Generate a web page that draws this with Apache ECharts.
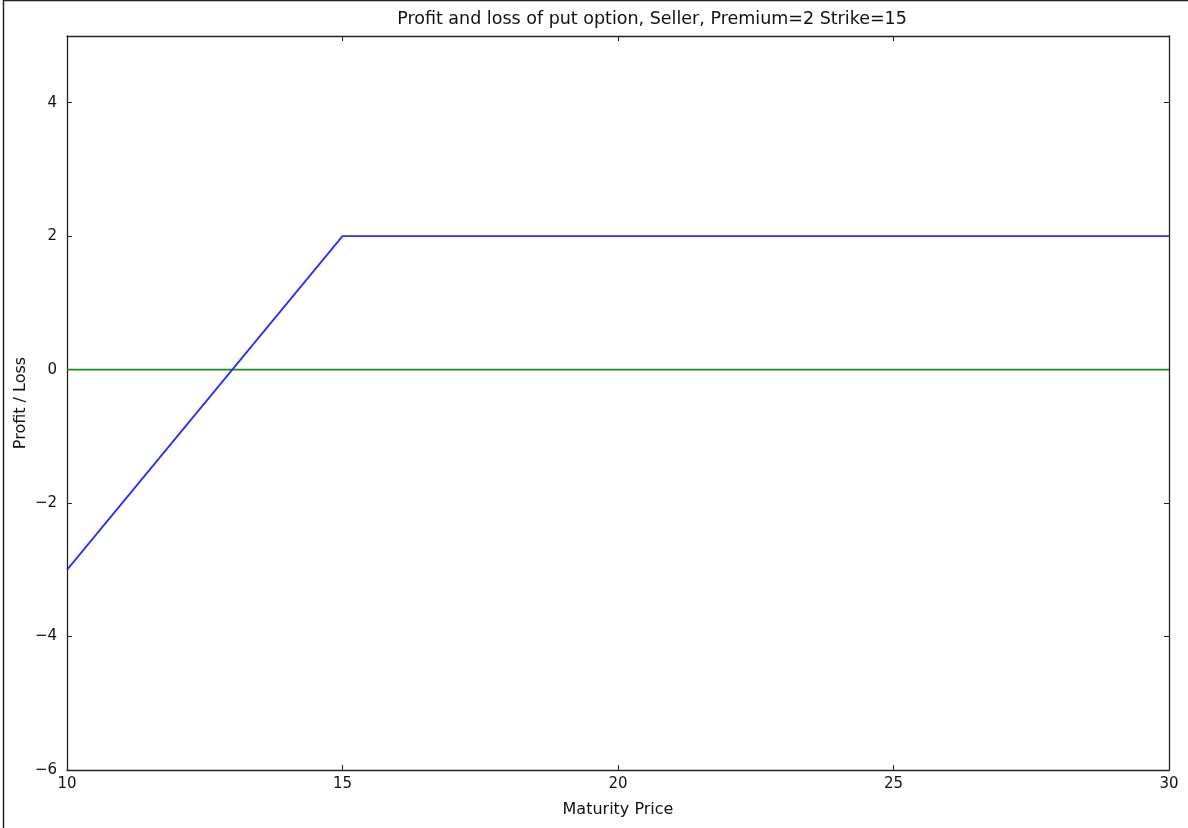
<!DOCTYPE html>
<html><head><meta charset="utf-8">
<script src="https://cdn.jsdelivr.net/npm/echarts@6/dist/echarts.min.js"></script>
<style>html,body{margin:0;padding:0;background:#fff}#c{width:1188px;height:828px}</style>
</head><body><div id="c"></div>
<script>
const titleText = 'Profit and loss of put option, Seller, Premium=2 Strike=15';
const xName = 'Maturity Price';
const yName = 'Profit / Loss';
const maturityPrices = [10, 15, 30];
const sellerPnl = [-3, 2, 2];
const zeroLine = [0, 0, 0];
const xTicks = [10, 15, 20, 25, 30];
const yTicks = [-6, -4, -2, 0, 2, 4];

const font = 'DejaVu Sans';
const fmt = v => String(v).replace('-', '\u2212');
const axisLine = {show: true, onZero: false, lineStyle: {color: '#222', width: 1.3}};
const tickIn = {show: true, inside: true, length: 5, lineStyle: {color: '#222', width: 1}};

const chart = echarts.init(document.getElementById('c'), null, {renderer: 'canvas'});
chart.setOption({
  animation: false,
  backgroundColor: '#fff',
  title: {text: titleText, left: 647, top: 5, textAlign: 'center',
    textStyle: {fontFamily: font, fontSize: 17.5, fontWeight: 'normal', color: '#111'}},
  grid: {left: 67, top: 36, width: 1102, height: 734, containLabel: false, outerBoundsMode: 'none'},
  xAxis: [
    {type: 'value', min: 10, max: 30, interval: 5, position: 'bottom',
     name: xName, nameLocation: 'middle', nameGap: 32, nameMoveOverlap: false,
     nameTextStyle: {fontFamily: font, fontSize: 16, color: '#111'},
     axisLine, axisTick: tickIn, splitLine: {show: false},
     axisLabel: {fontFamily: font, fontSize: 15, color: '#111', margin: 7, formatter: fmt}},
    {type: 'value', min: 10, max: 30, interval: 5, position: 'top',
     axisLine, axisTick: tickIn, splitLine: {show: false}, axisLabel: {show: false}}
  ],
  yAxis: [
    {type: 'value', min: -6, max: 5, interval: 2, position: 'left',
     name: yName, nameLocation: 'middle', nameGap: 38, nameRotate: 90, nameMoveOverlap: false,
     nameTextStyle: {fontFamily: font, fontSize: 16, color: '#111'},
     axisLine, axisTick: tickIn, splitLine: {show: false},
     axisLabel: {fontFamily: font, fontSize: 15, color: '#111', margin: 10,
       formatter: v => (yTicks.includes(v) ? fmt(v) : '')}},
    {type: 'value', min: -6, max: 5, interval: 2, position: 'right',
     axisLine, axisTick: tickIn, splitLine: {show: false}, axisLabel: {show: false}}
  ],
  graphic: [
    {type: 'rect', shape: {x: 3.5, y: 0.5, width: 1200, height: 840},
     style: {fill: 'none', stroke: '#222', lineWidth: 1.5}, silent: true}
  ],
  series: [
    {type: 'line', data: maturityPrices.map((x, i) => [x, sellerPnl[i]]),
     showSymbol: false, lineStyle: {color: '#2b2bff', width: 1.8}, z: 3},
    {type: 'line', data: maturityPrices.map((x, i) => [x, zeroLine[i]]),
     showSymbol: false, lineStyle: {color: '#1a8a1a', width: 1.8}, z: 2}
  ]
});
</script></body></html>
